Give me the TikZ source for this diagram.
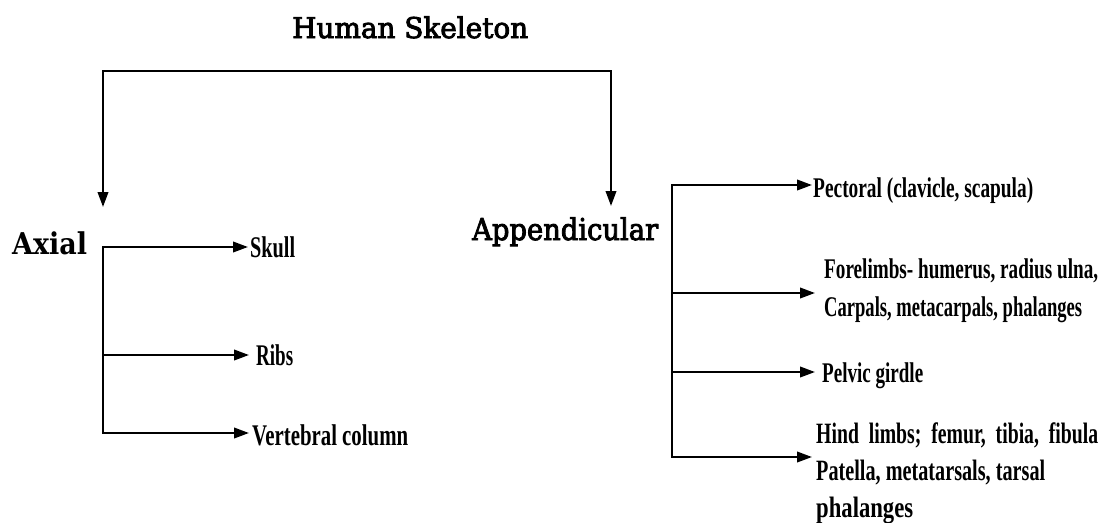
\documentclass[tikz,border=0pt]{standalone}
\usepackage{fontspec}
\usepackage{graphicx}
\usetikzlibrary{arrows.meta}
\newfontfamily\titlefont[FakeBold=3]{DejaVu Serif}
\newfontfamily\axfont{DejaVu Serif Bold}
\newfontfamily\labfont{Liberation Serif Bold}
\newcommand{\fitto}[2]{\resizebox{#1}{\height}{#2}}
\newcommand{\lfL}{\labfont\fontsize{30}{32}\selectfont}
\newcommand{\lfR}{\labfont\fontsize{28.5}{30}\selectfont}
\newcommand{\lfH}{\labfont\fontsize{29.5}{31}\selectfont}
\begin{document}
\begin{tikzpicture}[x=1pt,y=-1pt,
  conn/.style={line width=2.2pt, line join=miter},
  arr/.style={conn, -{Triangle[length=15pt,width=10.5pt]}},
  txt/.style={inner sep=0pt, anchor=base west}]
\useasboundingbox (0,0) rectangle (1102,522);
% titles
\node[txt] (title) at (292,38) {\fitto{236pt}{\titlefont\fontsize{28.5}{30}\selectfont Human Skeleton}};
\node[txt] (axial) at (12,254) {\fitto{75pt}{\axfont\fontsize{30}{32}\selectfont Axial}};
\node[txt] (app) at (472,240) {\fitto{186pt}{\titlefont\fontsize{30}{32}\selectfont Appendicular}};
% top connector
\coordinate (tl) at (103,71);
\coordinate (tr) at (611,71);
\coordinate (axin) at (103,207);
\coordinate (apin) at (611,206);
\draw[arr] (tr) -- (tl) -- (axin);
\draw[arr] (tl) -- (tr) -- (apin);
% axial labels
\node[txt] (skull) at (250,257) {\fitto{45pt}{\lfL Skull}};
\node[txt] (ribs) at (256,365) {\fitto{37pt}{\lfL Ribs}};
\node[txt] (vert) at (252,445) {\fitto{156pt}{\lfL Vertebral column}};
\coordinate (la) at (103,247);
\coordinate (lb) at (103,355);
\coordinate (lc) at (103,433);
\draw[arr, shorten >=2pt] (lc) -- (la) -- (la -| skull.west);
\draw[arr, shorten >=7pt] (lb) -- (lb -| ribs.west);
\draw[arr, shorten >=3pt] (la) -- (lc) -- (lc -| vert.west);
% appendicular labels
\node[txt] (pect) at (813,197) {\fitto{220pt}{\lfR Pectoral (clavicle, scapula)}};
\node[txt] (fore) at (824,278) {\vtop{\baselineskip=38pt\lineskiplimit=-1000pt
  \hbox{\fitto{274pt}{\lfR Forelimbs- humerus, radius ulna,}}
  \hbox{\fitto{258pt}{\lfR Carpals, metacarpals, phalanges}}}};
\node[txt] (pelvic) at (822,382) {\fitto{101pt}{\lfR Pelvic girdle}};
\node[txt] (hind) at (816,443) {\vtop{\baselineskip=37pt\lineskiplimit=-1000pt
  \hbox{\fitto{282pt}{\lfH Hind\ \ limbs;\ \ femur,\ \ tibia,\ \ fibula}}
  \hbox{\fitto{229pt}{\lfH Patella, metatarsals, tarsal}}
  \hbox{\fitto{97pt}{\lfH phalanges}}}};
\coordinate (ra) at (672,185);
\coordinate (rb) at (672,293);
\coordinate (rc) at (672,372);
\coordinate (rd) at (672,457);
\draw[arr, shorten >=1pt] (rd) -- (ra) -- (ra -| pect.west);
\draw[arr, shorten >=9pt] (rb) -- (rb -| fore.west);
\draw[arr, shorten >=7pt] (rc) -- (rc -| pelvic.west);
\draw[arr, shorten >=4pt] (ra) -- (rd) -- (rd -| hind.west);
\end{tikzpicture}
\end{document}
